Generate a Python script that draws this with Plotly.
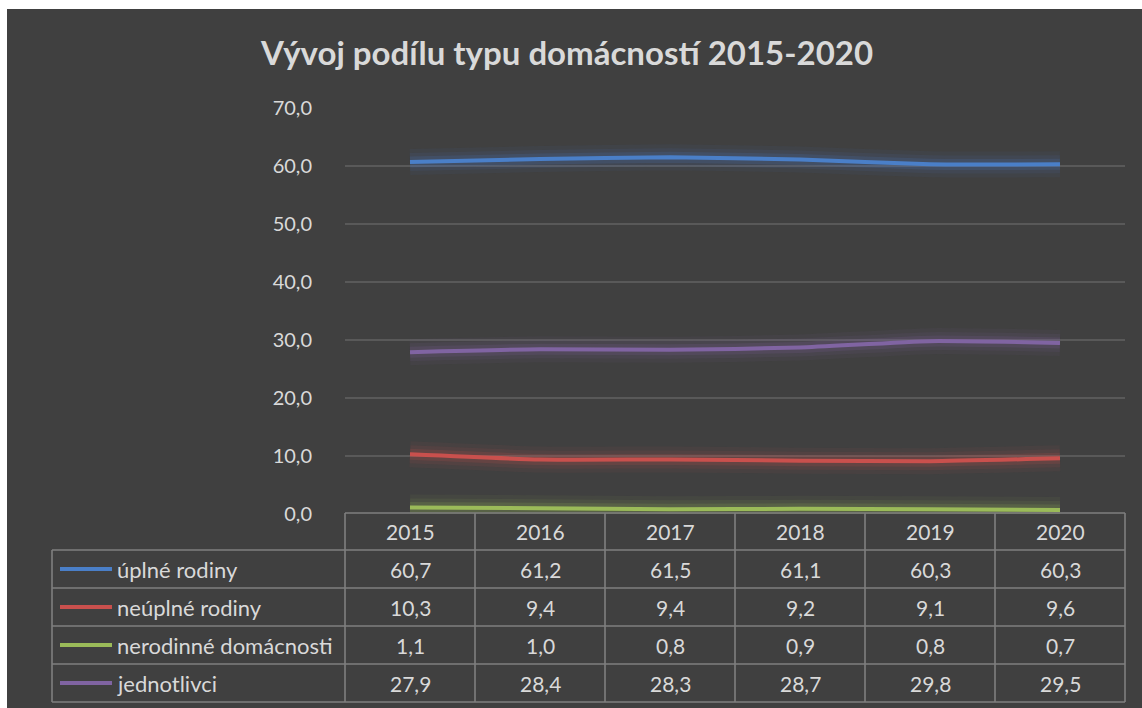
import plotly.graph_objects as go

years = ["2015", "2016", "2017", "2018", "2019", "2020"]
series_names = ["úplné rodiny", "neúplné rodiny", "nerodinné domácnosti", "jednotlivci"]
uplne = [60.7, 61.2, 61.5, 61.1, 60.3, 60.3]
neuplne = [10.3, 9.4, 9.4, 9.2, 9.1, 9.6]
nerodinne = [1.1, 1.0, 0.8, 0.9, 0.8, 0.7]
jednotlivci = [27.9, 28.4, 28.3, 28.7, 29.8, 29.5]
y_ticks = [0, 10, 20, 30, 40, 50, 60, 70]
title_text = "Vývoj podílu typu domácností 2015-2020"

values = [uplne, neuplne, nerodinne, jednotlivci]
colors = ["#4A7FC8", "#C9504D", "#9BBB59", "#8064A2"]
glows = ["rgba(74,127,200,{a})", "rgba(201,80,77,{a})", "rgba(155,187,89,{a})", "rgba(128,100,162,{a})"]

W, H = 1142, 708
BG = "#404040"
TXT = "#D9D9D9"
GRID = "#595959"
BORDER = "#7F7F7F"
FONT = "Lato"

def px(x):
    return x / W

def py(y):
    return 1 - y / H

plot_left, plot_right = 345, 1125
y0_px, y70_px = 514, 108
legend_left = 52
header_top = 513
row_bounds = [550, 588, 626, 664, 702]

fig = go.Figure()
x_idx = list(range(len(years)))
for i, (name, vals) in enumerate(zip(series_names, values)):
    for w, a in [(26, 0.06), (18, 0.09), (11, 0.16)]:
        fig.add_trace(go.Scatter(x=x_idx, y=vals, mode="lines",
                                 line=dict(color=glows[i].format(a=a), width=w, shape="spline", smoothing=0.5),
                                 hoverinfo="skip", showlegend=False))
    fig.add_trace(go.Scatter(x=x_idx, y=vals, mode="lines", name=name,
                             line=dict(color=colors[i], width=4, shape="spline", smoothing=0.5),
                             showlegend=False))

shapes = []
annotations = []
shapes.append(dict(type="rect", xref="paper", yref="paper", x0=px(7), x1=1, y0=0, y1=py(9),
                   fillcolor=BG, line=dict(width=0), layer="below"))

lw = 1.6
shapes.append(dict(type="line", xref="paper", yref="paper", x0=px(plot_left), x1=px(plot_right),
                   y0=py(header_top), y1=py(header_top), line=dict(color=BORDER, width=lw)))
for yb in row_bounds:
    shapes.append(dict(type="line", xref="paper", yref="paper", x0=px(legend_left), x1=px(plot_right),
                       y0=py(yb), y1=py(yb), line=dict(color=BORDER, width=lw)))
col_w = (plot_right - plot_left) / len(years)
for k in range(len(years) + 1):
    xx = plot_left + k * col_w
    shapes.append(dict(type="line", xref="paper", yref="paper", x0=px(xx), x1=px(xx),
                       y0=py(header_top), y1=py(row_bounds[-1]), line=dict(color=BORDER, width=lw)))
shapes.append(dict(type="line", xref="paper", yref="paper", x0=px(legend_left), x1=px(legend_left),
                   y0=py(row_bounds[0]), y1=py(row_bounds[-1]), line=dict(color=BORDER, width=lw)))

for k, yr in enumerate(years):
    annotations.append(dict(x=k, xref="x", y=py((header_top + row_bounds[0]) / 2), yref="paper",
                            text=yr, showarrow=False, font=dict(family=FONT, size=21, color=TXT),
                            xanchor="center", yanchor="middle"))
for i, (name, vals) in enumerate(zip(series_names, values)):
    yc = (row_bounds[i] + row_bounds[i + 1]) / 2
    shapes.append(dict(type="line", xref="paper", yref="paper", x0=px(60), x1=px(112),
                       y0=py(yc), y1=py(yc), line=dict(color=colors[i], width=4)))
    annotations.append(dict(x=px(115), xref="paper", y=py(yc), yref="paper", text=name,
                            showarrow=False, font=dict(family=FONT, size=22, color=TXT),
                            xanchor="left", yanchor="middle"))
    for k, v in enumerate(vals):
        annotations.append(dict(x=k, xref="x", y=py(yc), yref="paper",
                                text=f"{v:.1f}".replace(".", ","), showarrow=False,
                                font=dict(family=FONT, size=21, color=TXT),
                                xanchor="center", yanchor="middle"))

annotations.append(dict(x=px(566), xref="paper", y=py(52), yref="paper", text=f"<b>{title_text}</b>",
                        showarrow=False, font=dict(family=FONT, size=33, color=TXT),
                        xanchor="center", yanchor="middle"))

fig.update_layout(
    width=W, height=H, margin=dict(l=0, r=0, t=0, b=0, autoexpand=False),
    paper_bgcolor="white", plot_bgcolor=BG,
    separators=", ",
    shapes=shapes, annotations=annotations,
    xaxis=dict(domain=[px(plot_left), px(plot_right)], range=[-0.5, len(years) - 0.5],
               showgrid=False, zeroline=False, showticklabels=False, fixedrange=True, automargin=False),
    yaxis=dict(domain=[py(y0_px), py(y70_px)], range=[0, 70], tickvals=y_ticks, tickformat=".1f",
               showgrid=True, gridcolor=GRID, gridwidth=1.5, zeroline=False, automargin=False,
               tickfont=dict(family=FONT, size=20, color=TXT), ticklabelstandoff=32,
               showline=False, ticks=""),
)
fig.write_html("out.html")
